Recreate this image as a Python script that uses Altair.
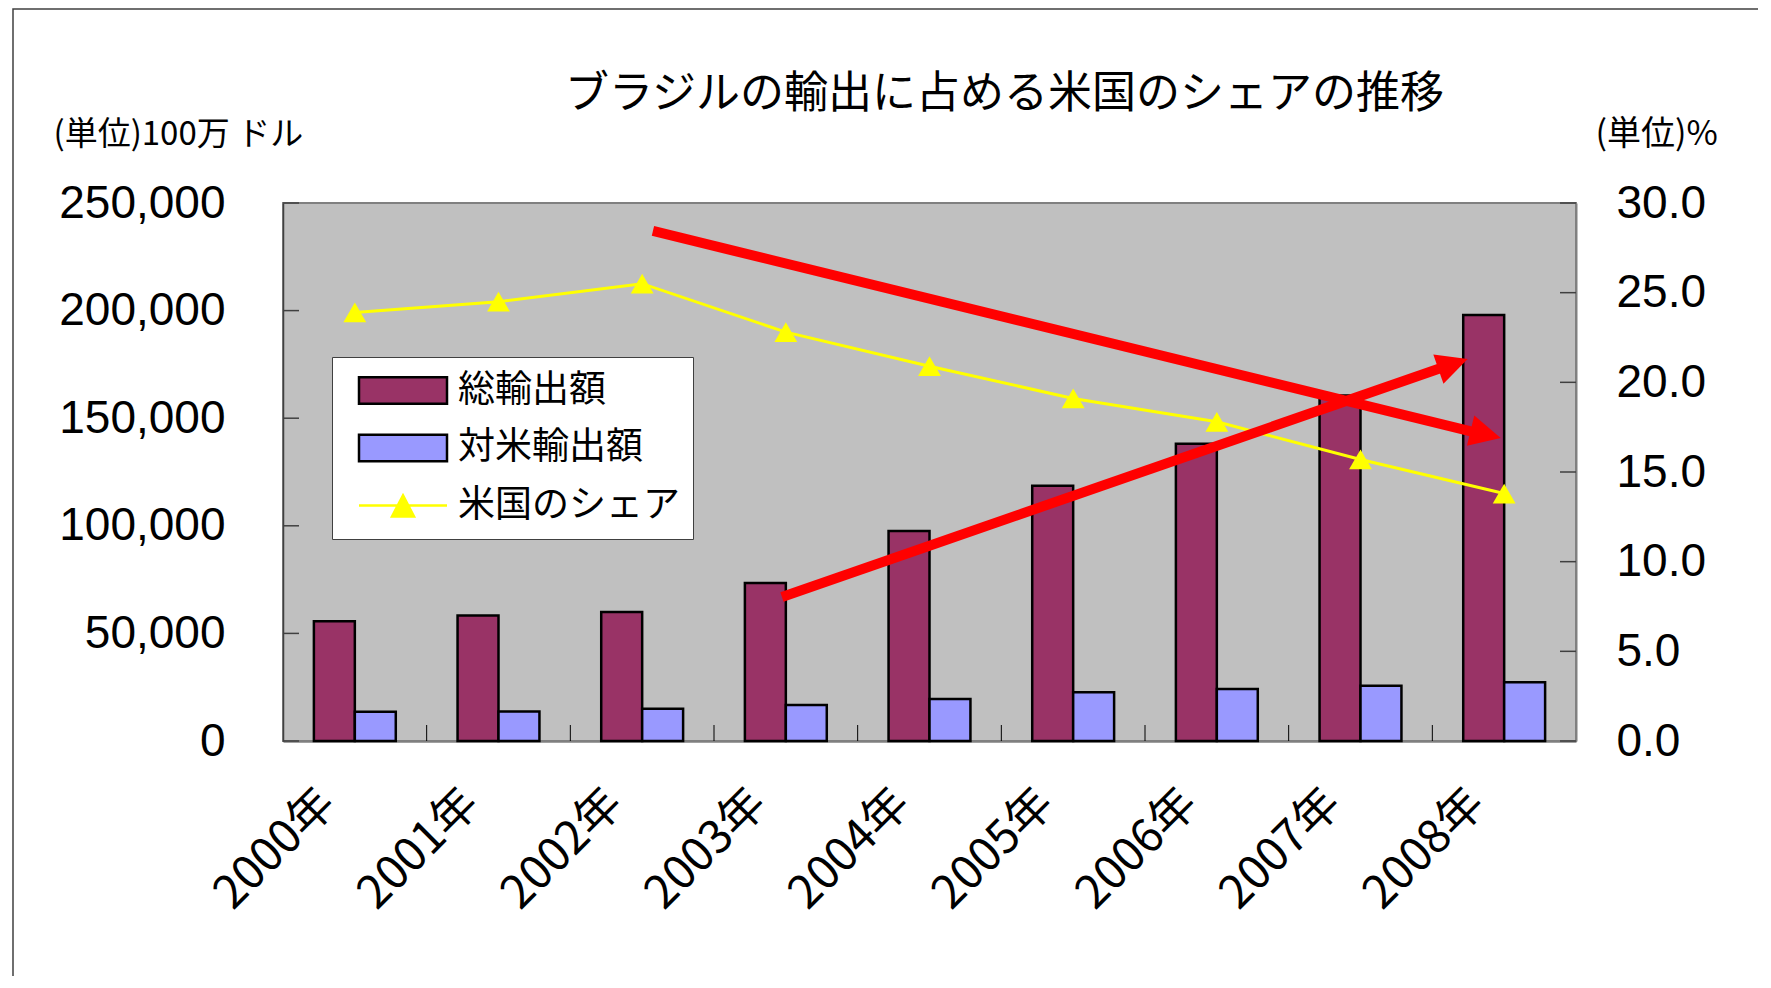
import altair as alt
import pandas as pd

# ---------------- data ----------------
years = ["2000年", "2001年", "2002年", "2003年", "2004年",
         "2005年", "2006年", "2007年", "2008年"]
total_exports = [55700, 58300, 59900, 73400, 97600, 118600, 138100, 160600, 197900]
us_exports = [13600, 13700, 15000, 16700, 19500, 22600, 24200, 25700, 27300]
us_share = [23.9, 24.5, 25.5, 22.8, 20.9, 19.1, 17.8, 15.7, 13.8]
series_names = ["総輸出額", "対米輸出額", "米国のシェア"]
left_ticks = [0, 50000, 100000, 150000, 200000, 250000]
right_ticks = [0, 5, 10, 15, 20, 25, 30]

# annotation arrows, in (category position 0..9, 100万ドル) units
arrow_down_x = [2.575, 8.29]
arrow_down_y = [237000, 143500]
arrow_down_tip_x = [8.476]
arrow_down_tip_y = [140800]
arrow_up_x = [3.473, 8.08]
arrow_up_y = [66900, 173800]
arrow_up_tip_x = [8.246]
arrow_up_tip_y = [177500]

# ---------------- style ----------------
W, H = 1293, 538
CJK = "'Noto Sans CJK JP', sans-serif"
NUM = "'Liberation Sans Narrow', 'Liberation Sans', sans-serif"
colors = ["#993366", "#9999FF", "#FFFF00"]
RED = "#FF0000"
n = len(years)
band = dict(paddingInner=0.43, paddingOuter=0.215)

bars_df = pd.DataFrame({
    "year": years + years,
    "series": [series_names[0]] * n + [series_names[1]] * n,
    "value": total_exports + us_exports,
})
share_df = pd.DataFrame({"year": years, "share": us_share})
sep_df = pd.DataFrame({"xq": list(range(1, n))})
lt_df = pd.DataFrame({"t": left_ticks})
rt_df = pd.DataFrame({"t": right_ticks})
one_df = pd.DataFrame({"a": [0]})

xq_scale = alt.Scale(domain=[0, n], nice=False, zero=False)
yl_scale = alt.Scale(domain=[0, 250000], nice=False)
yr_scale = alt.Scale(domain=[0, 30], nice=False)

is_share = f"datum.value === '{series_names[2]}'"
legend = alt.Legend(
    title=None, orient="none", legendX=49, legendY=154,
    fillColor="white", strokeColor="#404040", padding=12.5,
    clipHeight=42, rowPadding=15.5, symbolSize=7744, symbolStrokeWidth=2.5,
    symbolOffset=13, labelOffset=9.5, labelFont=CJK, labelFontSize=37,
    labelColor="black", labelLimit=500, symbolOpacity=1,
    symbolType={"expr": f"{is_share} ? 'M-1,0H1M0,-0.23L0.25,0.25L-0.25,0.25Z' : 'M-1,-0.3H1V0.3H-1Z'"},
    symbolStrokeColor={"expr": f"{is_share} ? '{colors[2]}' : '#000000'"},
)

frame = alt.Chart(one_df).mark_rect(fillOpacity=0, stroke="#404040", strokeWidth=1.5).encode(
    x=alt.value(-270), x2=alt.value(W + 400), y=alt.value(-194), y2=alt.value(H + 400)
)

bars = alt.Chart(bars_df).mark_bar(stroke="black", strokeWidth=2.5).encode(
    x=alt.X("year:N", sort=years, scale=alt.Scale(domain=years, **band), title=None,
            axis=alt.Axis(labelAngle=-45, labelAlign="right", labelBaseline="middle",
                          labelFont=CJK, labelFontSize=46, labelColor="black",
                          labelPadding=55, labelOffset=-27, ticks=False, tickSize=0,
                          labelOverlap=False, domainColor="#808080", domainWidth=2.5)),
    xOffset=alt.XOffset("series:N", sort=series_names[:2],
                        scale=alt.Scale(domain=series_names[:2])),
    y=alt.Y("value:Q", scale=yl_scale,
            axis=alt.Axis(values=left_ticks, labelExpr="format(datum.value, ',')",
                          labelFont=NUM, labelFontSize=46,
                          labelColor="black", labelPadding=58, ticks=False, tickSize=0,
                          grid=False, domainColor="#404040", domainWidth=1.5,
                          title="(単位)100万 ドル", titleAngle=0, titleAlign="left",
                          titleBaseline="middle", titleX=-230, titleY=-69, titleFont=CJK,
                          titleFontSize=33, titleFontWeight="normal", titleColor="black")),
    color=alt.Color("series:N", scale=alt.Scale(domain=series_names, range=colors),
                    legend=legend),
)

seps = alt.Chart(sep_df).mark_rule(color="black", strokeWidth=1).encode(
    x=alt.X("xq:Q", scale=xq_scale, axis=None),
    y=alt.value(H - 16), y2=alt.value(H),
)
lticks = alt.Chart(lt_df).mark_rule(color="#404040", strokeWidth=1.5).encode(
    y=alt.Y("t:Q", scale=yl_scale, axis=None), x=alt.value(0), x2=alt.value(16)
)
rticks = alt.Chart(rt_df).mark_rule(color="#404040", strokeWidth=1.5).encode(
    y=alt.Y("t:Q", scale=yr_scale, axis=None), x=alt.value(W - 16), x2=alt.value(W)
)

share = alt.Chart(share_df).mark_line(
    color=colors[2], strokeWidth=3,
    point=alt.OverlayMarkDef(shape="triangle-up", size=520, filled=True,
                             color=colors[2], opacity=1),
).encode(
    x=alt.X("year:N", sort=years, scale=alt.Scale(type="band", domain=years, **band),
            bandPosition=0.5, axis=None),
    y=alt.Y("share:Q", scale=yr_scale,
            axis=alt.Axis(orient="right", values=right_ticks, format=".1f", labelFont=NUM,
                          labelFontSize=46, labelColor="black", labelPadding=40,
                          ticks=False, tickSize=0, grid=False, domainColor="#808080",
                          domainWidth=2, title="(単位)%", titleAngle=0, titleAlign="left",
                          titleBaseline="middle", titleX=19, titleY=-69, titleFont=CJK,
                          titleFontSize=34, titleFontWeight="normal", titleColor="black")),
)


def shaft(xs, ys):
    df = pd.DataFrame({"xq": xs, "v": ys})
    return alt.Chart(df).mark_line(color=RED, strokeWidth=10, strokeCap="butt").encode(
        x=alt.X("xq:Q", scale=xq_scale, axis=None),
        y=alt.Y("v:Q", scale=yl_scale, axis=None),
    )


def head(xs, ys, ang):
    df = pd.DataFrame({"xq": xs, "v": ys})
    return alt.Chart(df).mark_point(shape="M-2,-1L0,0L-2,1Z", size=961, filled=True,
                                    color=RED, opacity=1, strokeWidth=0, angle=ang).encode(
        x=alt.X("xq:Q", scale=xq_scale, axis=None),
        y=alt.Y("v:Q", scale=yl_scale, axis=None),
    )


chart = alt.layer(
    frame, bars, seps, lticks, rticks, share,
    shaft(arrow_down_x, arrow_down_y), head(arrow_down_tip_x, arrow_down_tip_y, 13.72),
    shaft(arrow_up_x, arrow_up_y), head(arrow_up_tip_x, arrow_up_tip_y, 340.87),
).resolve_scale(x="independent", y="independent").properties(
    width=W, height=H,
    title=alt.TitleParams(text="ブラジルの輸出に占める米国のシェアの推移", font=CJK,
                          fontSize=44, fontWeight="normal", color="black",
                          anchor="middle", frame="group", dx=75, offset=-131,
                          baseline="middle"),
    autosize=alt.AutoSizeParams(type="none"),
    padding={"left": 275, "top": 195, "right": 182, "bottom": 235},
    background="white",
).configure_view(fill="#C0C0C0", stroke="#808080", strokeWidth=2)

chart.save("out.html", embed_options={"renderer": "svg", "actions": False})
